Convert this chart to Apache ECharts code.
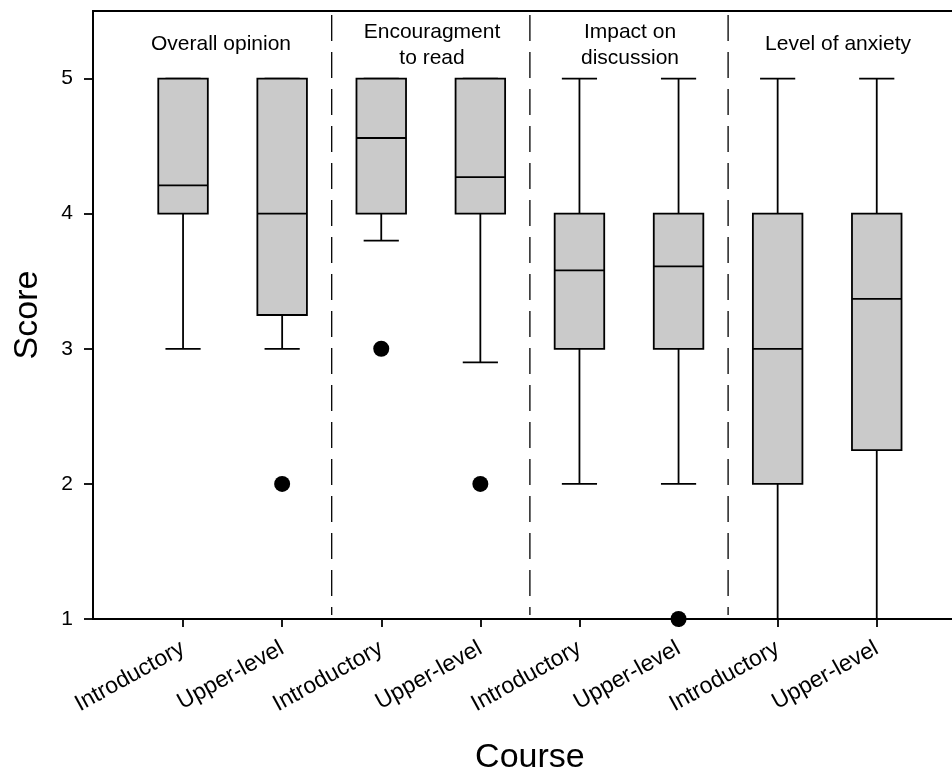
<!DOCTYPE html>
<html>
<head>
<meta charset="utf-8">
<script src="https://cdn.jsdelivr.net/npm/echarts@6/dist/echarts.min.js"></script>
<style>
html, body { margin: 0; padding: 0; background: #fff; }
#chart { width: 952px; height: 773px; }
</style>
</head>
<body>
<div id="chart"></div>
<script>
// x categories
var courses = ['Introductory', 'Upper-level', 'Introductory', 'Upper-level', 'Introductory', 'Upper-level', 'Introductory', 'Upper-level']
// panel headings
var panels = ['Overall opinion', 'Encouragment\nto read', 'Impact on\ndiscussion', 'Level of anxiety']
// box stats per course
var lowWhisker = [3, 3, 3.8, 2.9, 2, 2, 1, 1]
var q1 = [4, 3.25, 4, 4, 3, 3, 2, 2.25]
var median = [4.21, 4, 4.56, 4.27, 3.58, 3.61, 3, 3.37]
var q3 = [5, 5, 5, 5, 4, 4, 4, 4]
var highWhisker = [5, 5, 5, 5, 5, 5, 5, 5]
// outliers: [course index, score]
var outliers = [[1, 2], [2, 3], [3, 2], [5, 1]]
// y tick labels
var scoreTicks = [1, 2, 3, 4, 5]
// dashed separators between the panels (in course index units)
var dividers = [1.5, 3.5, 5.5]

var font = 'Liberation Sans, Arial, sans-serif'
var chart = echarts.init(document.getElementById('chart'))

var boxData = courses.map(function (c, i) {
  return [i, lowWhisker[i], q1[i], median[i], q3[i], highWhisker[i]]
})

function renderBox(params, api) {
  var i = api.value(0)
  var band = api.size([1, 0])[0]
  var x = api.coord([i, 0])[0]
  var yLow = api.coord([i, api.value(1)])[1]
  var yQ1 = api.coord([i, api.value(2)])[1]
  var yMed = api.coord([i, api.value(3)])[1]
  var yQ3 = api.coord([i, api.value(4)])[1]
  var yHigh = api.coord([i, api.value(5)])[1]
  var bw = band * 0.5
  var cw = band * 0.355
  var line = { stroke: '#000', lineWidth: 1.8 }
  return {
    type: 'group',
    children: [
      { type: 'line', shape: { x1: x, y1: yQ1, x2: x, y2: yLow }, style: line },
      { type: 'line', shape: { x1: x, y1: yQ3, x2: x, y2: yHigh }, style: line },
      { type: 'line', shape: { x1: x - cw / 2, y1: yLow, x2: x + cw / 2, y2: yLow }, style: line },
      { type: 'line', shape: { x1: x - cw / 2, y1: yHigh, x2: x + cw / 2, y2: yHigh }, style: line },
      { type: 'rect', shape: { x: x - bw / 2, y: yQ3, width: bw, height: yQ1 - yQ3 },
        style: { fill: '#cacaca', stroke: '#000', lineWidth: 1.8 } },
      { type: 'line', shape: { x1: x - bw / 2, y1: yMed, x2: x + bw / 2, y2: yMed }, style: line }
    ]
  }
}

function renderDivider(params, api) {
  var x = api.coord([api.value(0), 1])[0]
  var cs = params.coordSys
  return {
    type: 'line',
    shape: { x1: x, y1: cs.y + 4, x2: x, y2: cs.y + cs.height - 4 },
    style: { stroke: '#000', lineWidth: 1.3, lineDash: [26, 11] }
  }
}

var titleX = [221, 432, 630, 838]

chart.setOption({
  animation: false,
  grid: [
    { left: 93, right: -5, top: 11, bottom: 154, outerBoundsMode: 'none', containLabel: false,
      show: true, borderColor: '#000', borderWidth: 1.8 },
    { left: 133.5, right: 25.7, top: 11, bottom: 154, outerBoundsMode: 'none', containLabel: false }
  ],
  xAxis: [
    { gridIndex: 0, type: 'value', show: false },
    {
      gridIndex: 1,
      type: 'category',
      data: courses,
      axisLine: { show: true, lineStyle: { color: '#000', width: 1.8 } },
      axisTick: { show: true, inside: false, alignWithLabel: true, length: 8, lineStyle: { color: '#000', width: 1.8 } },
      axisLabel: { rotate: 29, fontSize: 23, margin: 28, color: '#000', fontFamily: font },
      name: 'Course',
      nameLocation: 'middle',
      nameGap: 122,
      nameTextStyle: { fontSize: 34, color: '#000', fontFamily: font }
    },
    { gridIndex: 1, type: 'value', min: -0.5, max: 7.5, show: false }
  ],
  yAxis: [
    {
      gridIndex: 0,
      type: 'value',
      min: 1,
      max: 5.5,
      splitLine: { show: false },
      axisLine: { show: true, lineStyle: { color: '#000', width: 1.8 } },
      axisTick: { show: true, length: 9, customValues: scoreTicks, lineStyle: { color: '#000', width: 1.8 } },
      axisLabel: { customValues: scoreTicks, fontSize: 21, margin: 20, color: '#000', fontFamily: font },
      name: 'Score',
      nameLocation: 'middle',
      nameGap: 48,
      nameTextStyle: { fontSize: 34, color: '#000', fontFamily: font }
    },
    { gridIndex: 1, type: 'value', min: 1, max: 5.5, show: false }
  ],
  series: [
    {
      type: 'custom',
      xAxisIndex: 2,
      yAxisIndex: 1,
      renderItem: renderDivider,
      data: dividers.map(function (d) { return [d] }),
      encode: { x: 0 },
      silent: true
    },
    {
      type: 'custom',
      xAxisIndex: 1,
      yAxisIndex: 1,
      renderItem: renderBox,
      data: boxData,
      encode: { x: 0, y: [1, 2, 3, 4, 5] }
    },
    {
      type: 'scatter',
      xAxisIndex: 1,
      yAxisIndex: 1,
      data: outliers,
      symbol: 'circle',
      symbolSize: 16,
      clip: false,
      z: 5,
      itemStyle: { color: '#000', opacity: 1 }
    }
  ],
  graphic: panels.map(function (p, k) {
    var twoLine = p.indexOf('\n') >= 0
    return {
      type: 'text',
      x: titleX[k],
      y: twoLine ? 19 : 31,
      style: {
        text: p,
        fill: '#000',
        font: '21px ' + font,
        textAlign: 'center',
        textVerticalAlign: 'top',
        lineHeight: 26
      }
    }
  })
})
</script>
</body>
</html>
